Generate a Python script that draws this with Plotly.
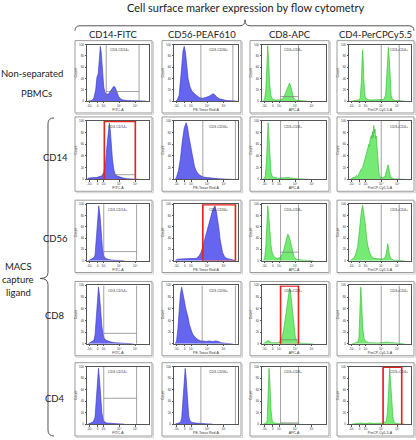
import plotly.graph_objects as go

W, H = 416, 440

# ---------------- text / categories ----------------
TITLE = "Cell surface marker expression by flow cytometry"
COLUMNS = ["CD14-FITC", "CD56-PEAF610", "CD8-APC", "CD4-PerCPCy5.5"]
X_TITLES = ["FITC-A", "PE-Texas Red-A", "APC-A", "PerCP-Cy5-5-A"]
GATE_LABELS = ["CD3-CD14+", "CD3-CD56+", "CD3+CD8+", "CD3+CD4+"]
ROW_LABELS = ["CD14", "CD56", "CD8", "CD4"]
X_TICKVALS = [4, 17, 27, 52, 78]
X_TICKTEXT = ["-10³", "0", "10³", "10⁴", "10⁵"]
Y_TICKVALS = [0, 20, 40, 60, 80, 100]
Y_TICKTEXT = ["0", "20", "40", "60", "80", "100"]

# ---------------- histogram data (x: display channel 0-100, y: % of max count) ----------------
# Row 1: non-separated PBMCs
nonsep_cd14_x = [2, 8, 11, 14, 16, 18, 20, 21.5, 23, 25, 27, 29, 32, 35, 38, 41, 43, 45, 48, 51, 54, 58, 65, 80, 95]
nonsep_cd14_y = [0, 1, 5, 20, 42, 48, 75, 97, 85, 50, 25, 15, 12, 13, 17, 23, 26, 25, 17, 8, 4, 2, 1, 0.5, 0]
nonsep_cd56_x = [3, 5, 8, 10, 12, 14, 16, 18, 20, 22, 25, 28, 32, 36, 40, 45, 50, 54, 58, 61, 64, 67, 71, 76, 82, 90, 98]
nonsep_cd56_y = [0, 2, 10, 30, 60, 88, 97, 85, 60, 40, 25, 18, 13, 9, 6, 5, 6, 8, 11, 13, 11, 7, 4, 2, 1, 0.5, 0]
nonsep_cd8_x = [2, 4, 6, 7.5, 9, 10.5, 12, 14, 16, 20, 25, 29, 32, 35, 38, 41, 43, 45, 47, 49, 52, 56, 62, 70]
nonsep_cd8_y = [0, 3, 20, 60, 98, 70, 30, 10, 4, 2, 2, 2, 4, 9, 18, 29, 32, 26, 14, 6, 2, 1, 0.5, 0]
nonsep_cd4_x = [5, 10, 15, 18, 20, 21, 22, 23, 24, 26, 29, 35, 45, 52, 56, 59, 61, 62.5, 63.5, 65, 66.5, 68, 70, 75, 82, 90]
nonsep_cd4_y = [0, 1, 2, 5, 35, 70, 90, 70, 35, 8, 3, 2, 2, 2, 3, 10, 50, 88, 95, 75, 35, 10, 3, 1, 0.5, 0]

# Row 2: CD14 capture
cd14cap_cd14_x = [1, 5, 10, 15, 20, 24, 27, 30, 32, 34, 36, 37.5, 39, 41, 43, 45, 48, 52, 56, 60, 65, 75, 85]
cd14cap_cd14_y = [2, 3, 3, 3, 4, 6, 12, 30, 55, 80, 96, 85, 60, 35, 18, 10, 6, 4, 3, 2, 1, 0.5, 0]
cd14cap_cd56_x = [2, 4, 7, 10, 13, 16, 19, 21, 23, 26, 29, 32, 35, 38, 42, 46, 52, 58, 64, 70, 80, 90]
cd14cap_cd56_y = [0, 4, 15, 35, 65, 88, 97, 90, 75, 55, 35, 22, 14, 9, 6, 4, 3, 2, 1.5, 1, 0.5, 0]
cd14cap_cd8_x = [2, 5, 7, 8.5, 9.5, 11, 12.5, 14, 16, 20, 25, 30, 35, 40, 45, 50, 55, 65, 75]
cd14cap_cd8_y = [0, 4, 30, 80, 97, 70, 35, 12, 5, 3, 2, 2.5, 3, 3, 2.5, 1.5, 1, 0.5, 0]
cd14cap_cd4_x = [2, 5, 8, 10, 12, 14, 16, 18, 20, 22, 24, 26, 28, 30, 32, 33, 34, 36, 37, 38, 39, 40, 41, 42,
                 43, 44, 45, 46, 47, 48, 49, 50, 52, 55, 58, 60, 62, 63, 64.5, 66, 68, 72, 80, 90]
cd14cap_cd4_y = [0, 2, 4, 3, 7, 5, 10, 12, 18, 20, 28, 33, 45, 52, 60, 56, 68, 75, 70, 82, 72, 92, 80, 86,
                 70, 74, 55, 45, 30, 15, 8, 5, 3, 3, 5, 12, 22, 25, 18, 8, 3, 1, 0.5, 0]

# Row 3: CD56 capture
cd56cap_cd14_x = [2, 5, 8, 11, 13, 15, 17, 19, 21, 23, 25, 27, 30, 35, 40, 50, 60]
cd56cap_cd14_y = [0, 2, 3, 5, 10, 35, 75, 97, 80, 45, 20, 8, 4, 2, 1, 0.5, 0]
cd56cap_cd56_x = [2, 4, 10, 20, 30, 35, 39, 42, 45, 48, 51, 54, 57, 60, 62, 64, 66, 68, 70, 72, 74, 76, 79, 82, 86, 90, 94, 97]
cd56cap_cd56_y = [0, 2, 3, 3, 3, 4, 8, 14, 25, 38, 52, 65, 77, 88, 93, 97, 88, 75, 58, 38, 24, 14, 7, 4, 3, 2, 1, 0]
cd56cap_cd8_x = [2, 4, 6, 7.5, 9, 10.5, 12, 14, 16, 18, 21, 24, 27, 30, 33, 35, 37, 39, 40.5, 42, 44, 46, 48, 50, 53, 57, 62, 70, 80]
cd56cap_cd8_y = [0, 3, 25, 70, 97, 80, 50, 28, 14, 8, 5, 4, 5, 8, 15, 26, 36, 42, 47, 44, 36, 25, 14, 7, 3, 1.5, 1, 0.5, 0]
cd56cap_cd4_x = [2, 5, 8, 11, 14, 16, 18, 20, 22, 24, 26, 28, 30, 33, 36, 40, 45, 50, 55, 58, 60, 61.5, 62.5, 64, 65.5, 68, 72, 80, 90]
cd56cap_cd4_y = [0, 2, 5, 12, 25, 45, 70, 88, 98, 85, 68, 45, 28, 15, 8, 4, 3, 3, 3, 5, 12, 25, 30, 20, 8, 3, 1, 0.5, 0]

# Row 4: CD8 capture
cd8cap_cd14_x = [2, 5, 8, 11, 13, 15, 17, 18.5, 20, 22, 24, 26, 28, 31, 35, 39, 45, 55, 65, 75]
cd8cap_cd14_y = [0, 2, 3, 6, 15, 40, 80, 97, 85, 55, 30, 15, 9, 6, 4, 3, 2, 1, 0.5, 0]
cd8cap_cd56_x = [2, 4, 6, 8, 10, 12, 14, 16, 18, 20, 22, 24, 26, 28, 30, 32, 35, 38, 42, 46, 50, 55, 60, 65, 70, 73, 78, 85, 92]
cd8cap_cd56_y = [0, 5, 25, 60, 85, 97, 88, 75, 62, 55, 45, 33, 25, 20, 15, 12, 9, 7, 5, 5, 4, 5, 4, 5, 4, 2, 1, 0.5, 0]
cd8cap_cd8_x = [2, 5, 8, 10, 12, 15, 20, 25, 28, 31, 34, 37, 39.5, 41.5, 43, 44.5, 46, 48, 50, 52, 54, 57, 62, 70, 80]
cd8cap_cd8_y = [0, 2, 4, 6, 4, 2, 2, 2, 4, 10, 25, 50, 72, 88, 95, 90, 75, 50, 28, 12, 5, 2, 1, 0.5, 0]
cd8cap_cd4_x = [5, 10, 14, 16, 17.5, 19, 20.5, 22, 24, 27, 32, 40, 48, 53, 57, 61, 65, 69, 73, 80, 90]
cd8cap_cd4_y = [0, 1, 3, 10, 50, 97, 70, 30, 10, 4, 2, 1.5, 1.5, 2, 3, 3, 2.5, 2, 1, 0.5, 0]

# Row 5: CD4 capture
cd4cap_cd14_x = [2, 6, 10, 13, 15, 17, 18.5, 20, 22, 24, 26, 28, 32, 40, 50, 60]
cd4cap_cd14_y = [0, 2, 4, 12, 45, 85, 97, 80, 45, 20, 8, 4, 2, 1, 0.5, 0]
cd4cap_cd56_x = [2, 6, 10, 12, 14, 16, 17.5, 19, 21, 23, 25, 28, 33, 40, 50, 60]
cd4cap_cd56_y = [0, 1, 3, 10, 50, 90, 97, 80, 40, 14, 6, 3, 2, 1, 0.5, 0]
cd4cap_cd8_x = [2, 5, 8, 9.5, 11, 12.5, 14, 16, 19, 25, 35, 45, 60]
cd4cap_cd8_y = [0, 1, 5, 40, 97, 70, 25, 6, 2, 1, 0.5, 0.5, 0]
cd4cap_cd4_x = [5, 15, 20, 25, 30, 35, 40, 50, 56, 60, 62, 64, 65.5, 67, 69, 71, 73, 76, 82, 90]
cd4cap_cd4_y = [0, 1, 2, 1, 1.5, 2, 1, 1, 2, 5, 20, 60, 97, 75, 35, 10, 3, 1, 0.5, 0]

# Gates (display channel units) per row x column
GATE_LO = [[31, 42, 29, 52], [28, 45, 29, 52], [27, 45, 29, 52], [27, 44, 29, 52], [27, 42, 29, 55]]
GATE_HI = [[84, 92, 57, 81], [78, 96, 57, 81], [80, 96, 57, 81], [80, 96, 57, 81], [80, 96, 57, 85]]
GATE_LEVEL = [[17, None, 8, None], [8, None, None, None], [16, None, 15, None],
              [18, None, 7, None], [45, None, 3, None]]
HIGHLIGHT = [(1, 0), (2, 1), (3, 2), (4, 3)]

HIST = [
    [(nonsep_cd14_x, nonsep_cd14_y), (nonsep_cd56_x, nonsep_cd56_y), (nonsep_cd8_x, nonsep_cd8_y), (nonsep_cd4_x, nonsep_cd4_y)],
    [(cd14cap_cd14_x, cd14cap_cd14_y), (cd14cap_cd56_x, cd14cap_cd56_y), (cd14cap_cd8_x, cd14cap_cd8_y), (cd14cap_cd4_x, cd14cap_cd4_y)],
    [(cd56cap_cd14_x, cd56cap_cd14_y), (cd56cap_cd56_x, cd56cap_cd56_y), (cd56cap_cd8_x, cd56cap_cd8_y), (cd56cap_cd4_x, cd56cap_cd4_y)],
    [(cd8cap_cd14_x, cd8cap_cd14_y), (cd8cap_cd56_x, cd8cap_cd56_y), (cd8cap_cd8_x, cd8cap_cd8_y), (cd8cap_cd4_x, cd8cap_cd4_y)],
    [(cd4cap_cd14_x, cd4cap_cd14_y), (cd4cap_cd56_x, cd4cap_cd56_y), (cd4cap_cd8_x, cd4cap_cd8_y), (cd4cap_cd4_x, cd4cap_cd4_y)],
]

# ---------------- layout geometry (pixels) ----------------
COL_BOX = [(75, 152), (162, 241), (250, 329), (337, 414)]
ROW_BOX = [(39, 112), (116, 191), (200, 273), (282, 357), (364, 438)]
COL_COLORS = ["blue", "blue", "green", "green"]
FILL = {"blue": "rgba(88,88,238,0.92)", "green": "rgba(110,234,110,0.95)"}
EDGE = {"blue": "#3434c4", "green": "#2cb82c"}


def px(x):
    return x / W


def py(y):
    return 1 - y / H


fig = go.Figure()
layout = dict(
    width=W, height=H, margin=dict(l=0, r=0, t=0, b=0),
    paper_bgcolor="white", plot_bgcolor="white", showlegend=False,
    font=dict(family="Liberation Sans, Arial", color="#333"),
)
shapes = []
annotations = []

tiny = dict(family="Liberation Sans, Arial", size=3, color="#333")
small = dict(family="Liberation Sans, Arial", size=3.5, color="#333")

for r in range(5):
    for c in range(4):
        k = r * 4 + c + 1
        xa = "xaxis" if k == 1 else f"xaxis{k}"
        ya = "yaxis" if k == 1 else f"yaxis{k}"
        xr = "x" if k == 1 else f"x{k}"
        yr = "y" if k == 1 else f"y{k}"
        L, R = COL_BOX[c]
        T, B = ROW_BOX[r]
        # outer panel box (shadow + border)
        shapes.append(dict(type="rect", xref="paper", yref="paper", x0=px(L + 1.5), x1=px(R + 1.5),
                           y0=py(B + 1.5), y1=py(T + 1.5), line=dict(color="#d2d2d2", width=1), layer="below"))
        shapes.append(dict(type="rect", xref="paper", yref="paper", x0=px(L), x1=px(R),
                           y0=py(B), y1=py(T), line=dict(color="#9c9c9c", width=1),
                           fillcolor="white", layer="below"))
        hx, hy = HIST[r][c]
        col = COL_COLORS[c]
        fig.add_trace(go.Scatter(x=hx, y=hy, mode="lines", fill="tozeroy",
                                 fillcolor=FILL[col], line=dict(color=EDGE[col], width=0.6),
                                 hoverinfo="skip", xaxis=xr, yaxis=yr))
        layout[xa] = dict(domain=[px(L + 12), px(R - 3)], range=[0, 100], anchor=yr,
                          showgrid=False, zeroline=False, showline=True, mirror=True,
                          linecolor="#555", linewidth=0.8, ticks="outside", ticklen=1.5,
                          tickwidth=0.5, tickcolor="#555", tickvals=X_TICKVALS, ticktext=X_TICKTEXT,
                          tickfont=tiny, fixedrange=True,
                          title=dict(text=X_TITLES[c], font=small, standoff=1))
        layout[ya] = dict(domain=[py(B - 12), py(T + 4)], range=[0, 100], anchor=xr,
                          showgrid=False, zeroline=False, showline=True, mirror=True,
                          linecolor="#555", linewidth=0.8, ticks="outside", ticklen=1.5,
                          tickwidth=0.5, tickcolor="#555", tickvals=Y_TICKVALS, ticktext=Y_TICKTEXT,
                          tickfont=tiny, fixedrange=True,
                          title=dict(text="Count", font=small, standoff=1))
        lo, hi, lev = GATE_LO[r][c], GATE_HI[r][c], GATE_LEVEL[r][c]
        gate_line = dict(color="#7a7a7a", width=0.7)
        shapes.append(dict(type="line", xref=xr, yref=yr, x0=lo, x1=lo, y0=0, y1=100, line=gate_line))
        shapes.append(dict(type="line", xref=xr, yref=yr, x0=hi, x1=hi, y0=0, y1=100, line=gate_line))
        if lev is not None:
            if r == 4 and c == 2:
                shapes.append(dict(type="rect", xref=xr, yref=yr, x0=lo, x1=hi, y0=0, y1=lev,
                                   line=dict(color="#9a9a9a", width=0.5), fillcolor="rgba(160,160,160,0.5)"))
            else:
                shapes.append(dict(type="line", xref=xr, yref=yr, x0=lo, x1=hi, y0=lev, y1=lev, line=gate_line))
        if (r, c) in HIGHLIGHT:
            shapes.append(dict(type="rect", xref=xr, yref=yr, x0=lo, x1=hi, y0=-1, y1=99,
                               line=dict(color="#e8231f", width=1.6)))
        if c in (0, 2):
            annotations.append(dict(xref=xr, yref=yr, x=lo + 3, y=90, text=GATE_LABELS[c], showarrow=False,
                                    xanchor="left", yanchor="middle", font=small))
        else:
            annotations.append(dict(xref=xr, yref=yr, x=88 if c == 1 else 98, y=90, text=GATE_LABELS[c],
                                    showarrow=False, xanchor="right", yanchor="middle", font=small))

big = dict(family="Lato, Open Sans, sans-serif", color="#222")
# title & column headers
annotations.append(dict(xref="paper", yref="paper", x=px(245), y=py(6), text=TITLE, showarrow=False,
                        xanchor="center", yanchor="middle", font=dict(size=11, **big)))
for c, name in enumerate(COLUMNS):
    L, R = COL_BOX[c]
    annotations.append(dict(xref="paper", yref="paper", x=px((L + R) / 2), y=py(33), text=name, showarrow=False,
                            xanchor="center", yanchor="middle", font=dict(size=9.5, **big)))
# row labels
annotations.append(dict(xref="paper", yref="paper", x=px(32), y=py(72), text="Non-separated", showarrow=False,
                        xanchor="center", yanchor="middle", font=dict(size=9.5, **big)))
annotations.append(dict(xref="paper", yref="paper", x=px(36), y=py(92), text="PBMCs", showarrow=False,
                        xanchor="center", yanchor="middle", font=dict(size=9.5, **big)))
ROW_LABEL_Y = [157, 239, 316, 400]
for name, yy in zip(ROW_LABELS, ROW_LABEL_Y):
    annotations.append(dict(xref="paper", yref="paper", x=px(55), y=py(yy), text=name, showarrow=False,
                            xanchor="center", yanchor="middle", font=dict(size=9.5, **big)))
for txt, yy in zip(["MACS", "capture", "ligand"], [267, 280, 293]):
    annotations.append(dict(xref="paper", yref="paper", x=px(18), y=py(yy), text=txt, showarrow=False,
                            xanchor="center", yanchor="middle", font=dict(size=9.5, **big)))


def path(points):
    out = []
    for cmd, pts in points:
        out.append(cmd + " " + " ".join(f"{px(a):.5f},{py(b):.5f}" for a, b in pts))
    return " ".join(out)


top_brace = path([("M", [(75, 29)]), ("Q", [(75, 24), (80, 24)]), ("L", [(240, 24)]),
                  ("Q", [(245, 24), (245, 18)]), ("Q", [(245, 24), (250, 24)]), ("L", [(409, 24)]),
                  ("Q", [(414, 24), (414, 29)])])
left_brace = path([("M", [(54, 117)]), ("Q", [(48, 117), (48, 123)]), ("L", [(48, 273)]),
                   ("Q", [(48, 279), (40, 279)]), ("Q", [(48, 279), (48, 285)]), ("L", [(48, 432)]),
                   ("Q", [(48, 438), (54, 438)])])
for pth in (top_brace, left_brace):
    shapes.append(dict(type="path", xref="paper", yref="paper", path=pth, line=dict(color="#555", width=1)))

layout["shapes"] = shapes
layout["annotations"] = annotations
fig.update_layout(**layout)

fig.write_html("out.html", config={"displayModeBar": False},
               post_script="document.body.style.margin='0';")
